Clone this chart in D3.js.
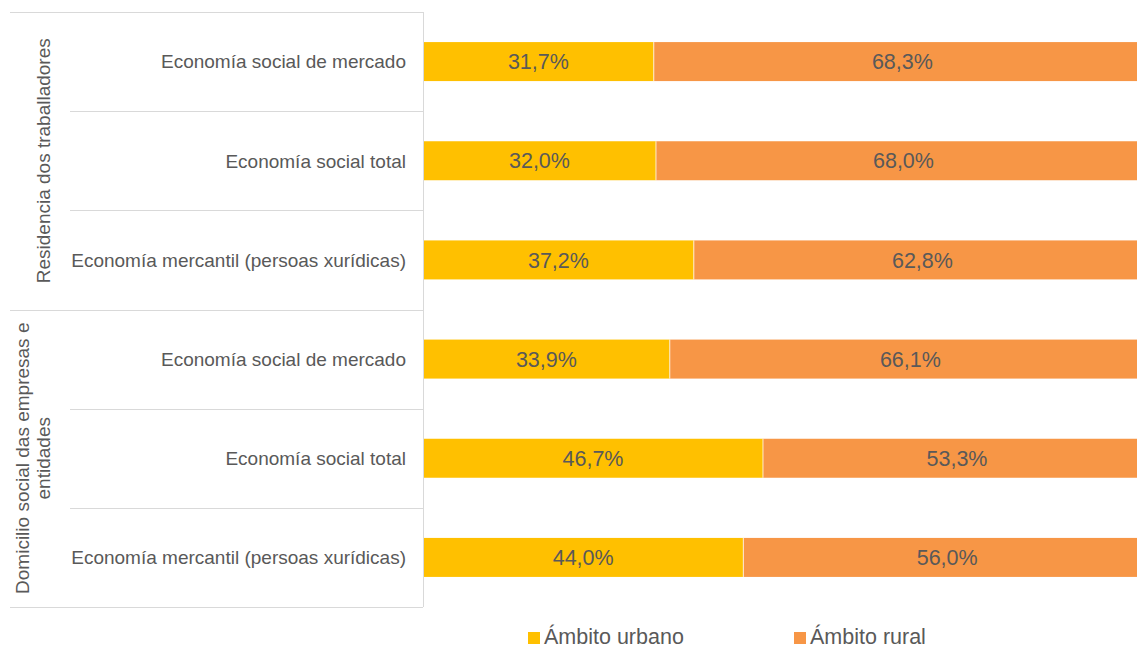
<!DOCTYPE html>
<html>
<head>
<meta charset="utf-8">
<script src="https://cdn.jsdelivr.net/npm/d3@7"></script>
<style>
  body { margin: 0; background: #fff; overflow: hidden; }
  svg { display: block; font-family: "Liberation Sans", Arial, sans-serif; }
</style>
</head>
<body>
<div id="chart"></div>
<script>
  // Data
  const groups = [
    { name: ['Residencia dos traballadores'], size: 3 },
    { name: ['Domicilio social das empresas e', 'entidades'], size: 3 }
  ];
  const categories = [
    'Economía social de mercado',
    'Economía social total',
    'Economía mercantil (persoas xurídicas)',
    'Economía social de mercado',
    'Economía social total',
    'Economía mercantil (persoas xurídicas)'
  ];
  const urbano = [31.7, 32.0, 37.2, 33.9, 46.7, 44.0];
  const rural = [68.3, 68.0, 62.8, 66.1, 53.3, 56.0];
  const seriesNames = ['Ámbito urbano', 'Ámbito rural'];
  const colors = ['#FFC000', '#F79646'];

  const width = 1137, height = 648;
  // the plot area runs past the right edge of the picture (chart is cropped)
  const plot = { left: 423, right: 1151, top: 12, bottom: 607 };

  const svg = d3.select('#chart').append('svg')
    .attr('width', width).attr('height', height);

  const y = d3.scaleBand()
    .domain(d3.range(categories.length))
    .range([plot.top, plot.bottom]);
  const x = d3.scaleLinear().domain([0, 100]).range([plot.left, plot.right]);

  const rowH = y.step();
  const rowTop = i => plot.top + i * rowH;
  const cy = i => y(i) + rowH / 2;

  const fmt = v => d3.format('.1f')(v).replace('.', ',') + '%';
  const rows = categories.map((c, i) => ({ cat: c, i, u: urbano[i], r: rural[i] }));

  // separators
  const grid = svg.append('g').attr('stroke', '#d9d9d9').attr('stroke-width', 1);
  for (let k = 0; k <= categories.length; k++) {
    const yy = Math.round(rowTop(k)) + 0.5;
    const isGroupEdge = k % 3 === 0;
    grid.append('line')
      .attr('x1', isGroupEdge ? 10 : 70).attr('x2', plot.left)
      .attr('y1', yy).attr('y2', yy);
  }
  grid.append('line')
    .attr('x1', plot.left + 0.5).attr('x2', plot.left + 0.5)
    .attr('y1', plot.top).attr('y2', plot.bottom);

  // bars
  const barH = 39;
  const bars = svg.append('g');
  rows.forEach(d => {
    bars.append('rect')
      .attr('x', x(0) + 1).attr('y', cy(d.i) - barH / 2)
      .attr('width', x(d.u) - x(0) - 1).attr('height', barH)
      .attr('fill', colors[0]);
    bars.append('rect')
      .attr('x', x(d.u)).attr('y', cy(d.i) - barH / 2)
      .attr('width', x(d.u + d.r) - x(d.u)).attr('height', barH)
      .attr('fill', colors[1]);
    bars.append('line')
      .attr('x1', x(d.u)).attr('x2', x(d.u))
      .attr('y1', cy(d.i) - barH / 2).attr('y2', cy(d.i) + barH / 2)
      .attr('stroke', '#fff').attr('stroke-width', 0.75);
    bars.append('text')
      .attr('x', (x(0) + x(d.u)) / 2).attr('y', cy(d.i))
      .attr('dy', '0.36em').attr('text-anchor', 'middle')
      .attr('font-size', 21.5).attr('fill', '#595959')
      .text(fmt(d.u));
    bars.append('text')
      .attr('x', (x(d.u) + x(d.u + d.r)) / 2).attr('y', cy(d.i))
      .attr('dy', '0.36em').attr('text-anchor', 'middle')
      .attr('font-size', 21.5).attr('fill', '#595959')
      .text(fmt(d.r));
  });

  // category labels
  svg.append('g').selectAll('text').data(rows).enter().append('text')
    .attr('x', 406).attr('y', d => cy(d.i))
    .attr('dy', '0.36em').attr('text-anchor', 'end')
    .attr('font-size', 19).attr('fill', '#595959')
    .text(d => d.cat);

  // group labels
  let start = 0;
  groups.forEach(g => {
    const mid = (rowTop(start) + rowTop(start + g.size)) / 2;
    const lineH = 21;
    const baseX = 43 - lineH * (g.name.length - 1);
    const t = svg.append('text')
      .attr('transform', `translate(${baseX},${mid}) rotate(-90)`)
      .attr('text-anchor', 'middle')
      .attr('font-size', 19).attr('fill', '#595959');
    g.name.forEach((n, k) => {
      t.append('tspan').attr('x', 0).attr('y', 0)
        .attr('dy', (k * lineH + 7) + 'px').text(n);
    });
    start += g.size;
  });

  // legend
  const legendX = [528, 794];
  const lg = svg.append('g');
  seriesNames.forEach((s, k) => {
    lg.append('rect').attr('x', legendX[k]).attr('y', 632)
      .attr('width', 12).attr('height', 12).attr('fill', colors[k]);
    lg.append('text').attr('x', legendX[k] + 16).attr('y', 644)
      .attr('font-size', 21.5).attr('fill', '#595959')
      .text(s);
  });
</script>
</body>
</html>
